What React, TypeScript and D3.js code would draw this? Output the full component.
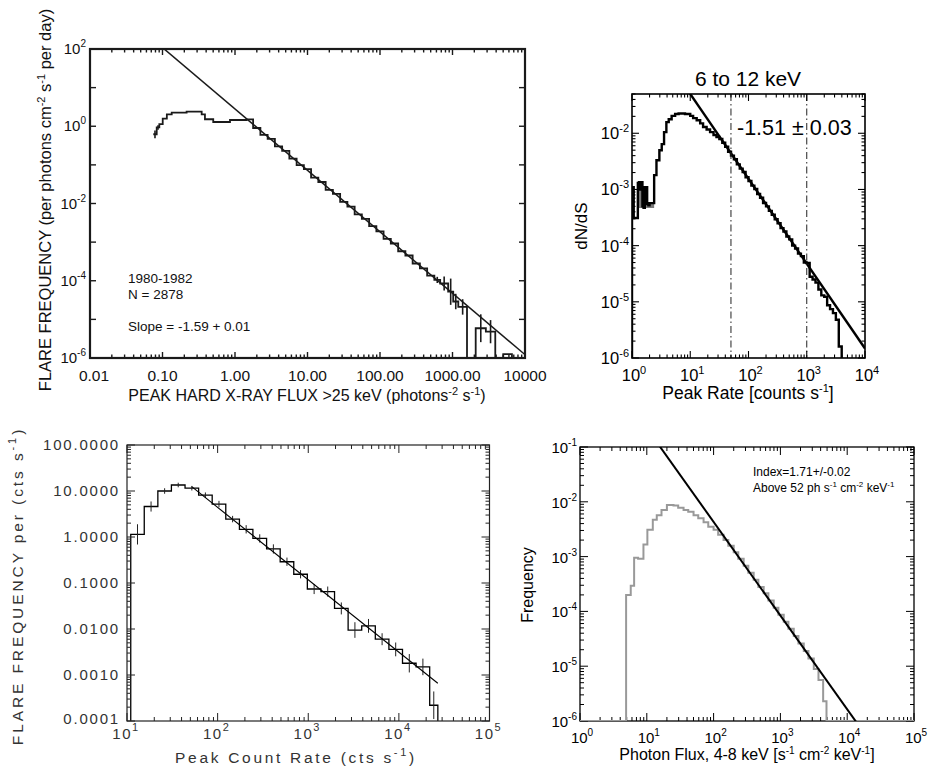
import React from 'react';
import * as d3 from 'd3';

const FONT = "'Liberation Sans', Arial, Helvetica, sans-serif";

// ---------------- Panel A (top-left): flare frequency vs peak hard X-ray flux
const aBinEdges = [0.0746, 0.0832, 0.0904, 0.1007, 0.1148, 0.134, 0.215, 0.347, 0.385, 0.501, 0.853, 1.445, 1.778, 2.24, 2.82, 3.55, 4.47, 5.62, 7.08, 8.91, 11.2, 14.1, 17.8, 22.4, 28.2, 35.5, 44.7, 56.2, 70.8, 89.1, 112, 141, 178, 224, 282, 355, 447, 562, 676, 871, 1023, 1202, 1585, 2089, 2884, 3890, 5012, 6607, 8318];
const aFreq = [0.62, 0.93, 1.13, 1.58, 2.04, 2.26, 2.4, 2.04, 1.52, 1.29, 1.45, 1.5, 0.9, 0.6, 0.47, 0.3, 0.23, 0.145, 0.098, 0.078, 0.047, 0.036, 0.0225, 0.0178, 0.011, 0.0083, 0.0052, 0.004, 0.0026, 0.0019, 0.00122, 0.00092, 0.00058, 0.00045, 0.00028, 0.00021, 0.000135, 0.000105, 8.5e-5, 5.2e-5, 2.9e-5, 2.1e-5, 0, 5.9e-6, 4.8e-6, 0, 1.26e-6, 0];
const aErrDex = [0.1, 0.06, 0, 0, 0, 0, 0, 0, 0, 0, 0, 0, 0, 0, 0, 0, 0, 0, 0, 0, 0, 0, 0, 0, 0, 0, 0, 0, 0, 0, 0, 0, 0, 0, 0, 0, 0, 0.08, 0.18, 0.34, 0.2, 0.2, 0, 0.36, 0.3, 0, 0, 0];
const aFitAmp = 2.8;
const aFitSlope = -1.59;
const aFitRange = [0.09, 12000];
const aXTickVals = [0.01, 0.1, 1, 10, 100, 1000, 10000];
const aXTickText = ['0.01', '0.10', '1.00', '10.00', '100.00', '1000.00', '10000'];
const aYLabelExp = [2, 0, -2, -4, -6];
const aNotes = ['1980-1982', 'N = 2878', 'Slope = -1.59 + 0.01'];

// ---------------- Panel B (top-right): dN/dS, 6 to 12 keV
const bBinEdges = [1.0, 1.07, 1.26, 1.32, 1.38, 1.45, 1.51, 1.58, 1.66, 1.74, 1.82, 1.91, 2.0, 2.14, 2.4, 2.63, 2.95, 3.24, 3.55, 3.89, 4.27, 4.79, 5.5, 6.31, 8.13, 10.0, 11.2, 12.9, 14.8, 16.6, 19.1, 21.9, 25.1, 28.2, 31.6, 35.5, 39.8, 44.7, 50.1, 56.2, 63.1, 70.8, 79.4, 89.1, 100, 112, 126, 141, 158, 178, 200, 224, 251, 282, 316, 355, 398, 447, 501, 562, 631, 708, 794, 891, 1000, 1122, 1259, 1413, 1585, 1778, 1995, 2239, 2512, 2818, 3162, 3548, 3981];
const bDnds = [1.1e-3, 3.1e-4, 1.3e-3, 1.35e-3, 1.0e-3, 1.35e-3, 5.0e-4, 4.7e-4, 1.1e-3, 1.1e-3, 5.5e-4, 5.2e-4, 5.7e-4, 5.7e-4, 1.8e-3, 3.3e-3, 5.0e-3, 6.4e-3, 1.05e-2, 1.58e-2, 1.78e-2, 2.04e-2, 2.2e-2, 2.25e-2, 2.2e-2, 2.04e-2, 1.86e-2, 1.7e-2, 1.5e-2, 1.29e-2, 1.17e-2, 1.05e-2, 9.3e-3, 8.6e-3, 7.9e-3, 6.8e-3, 5.75e-3, 4.7e-3, 4.0e-3, 3.45e-3, 2.8e-3, 2.35e-3, 2.05e-3, 1.65e-3, 1.41e-3, 1.17e-3, 1.02e-3, 8.3e-4, 7.1e-4, 5.75e-4, 5.0e-4, 4.15e-4, 3.55e-4, 2.95e-4, 2.5e-4, 2.05e-4, 1.78e-4, 1.45e-4, 1.29e-4, 1.0e-4, 8.9e-5, 7.2e-5, 6.5e-5, 5.0e-5, 4.9e-5, 2.8e-5, 2.5e-5, 2.2e-5, 1.66e-5, 1.3e-5, 1.23e-5, 8.7e-6, 7.4e-6, 6.3e-6, 4.8e-6, 1.6e-6];
const bFitAmp = 1.62;
const bFitSlope = -1.51;
const bFitRange = [8, 10000];
const bMarkers = [50, 1000];
const bShadeRange = [1.26, 2.4];
const bShadeFloor = 4.7e-4;
const bXExp = [0, 1, 2, 3, 4];
const bYExp = [-2, -3, -4, -5, -6];

// ---------------- Panel C (bottom-left): flare frequency vs peak count rate
const cBinEdges = [11.0, 15.5, 21.9, 30.9, 43.7, 61.7, 87.1, 123, 174, 245, 347, 490, 692, 977, 1380, 1950, 2754, 3890, 5495, 7762, 10965, 15488, 21878, 26915];
const cFreq = [1.14, 4.6, 10, 13.5, 11.5, 8.1, 5.2, 2.45, 1.47, 0.93, 0.55, 0.29, 0.155, 0.074, 0.065, 0.028, 0.0095, 0.0117, 0.006, 0.0036, 0.0018, 0.0015, 0.00022];
const cErrDex = [0.22, 0.11, 0.06, 0.05, 0.05, 0.06, 0.07, 0.07, 0.09, 0.09, 0.1, 0.09, 0.09, 0.11, 0.11, 0.13, 0.17, 0.15, 0.13, 0.15, 0.2, 0.18, 0.3];
const cFitAmp = 6194;
const cFitSlope = -1.574;
const cFitRange = [51.8, 26900];
const cYTickVals = [100, 10, 1, 0.1, 0.01, 0.001, 0.0001];
const cYTickText = ['100.0000', '10.0000', '1.0000', '0.1000', '0.0100', '0.0010', '0.0001'];
const cXExp = [1, 2, 3, 4, 5];

// ---------------- Panel D (bottom-right): frequency vs photon flux 4-8 keV
const dBinEdges = [4.9, 5.75, 6.46, 7.41, 8.91, 10.2, 12.3, 14.1, 16.6, 20.0, 25.1, 29.5, 35.5, 41.7, 50.1, 58.9, 70.8, 83.2, 100, 117, 141, 166, 200, 234, 282, 331, 398, 468, 562, 661, 794, 933, 1122, 1318, 1585, 1862, 2239, 2630, 3162, 3715, 4365, 4898];
const dFreq = [2.0e-4, 2.95e-4, 9.5e-4, 9.1e-4, 1.66e-3, 3.1e-3, 4.7e-3, 5.7e-3, 7.1e-3, 8.7e-3, 8.6e-3, 7.8e-3, 7.1e-3, 6.6e-3, 5.7e-3, 5.0e-3, 4.25e-3, 3.5e-3, 3.1e-3, 2.5e-3, 2.0e-3, 1.58e-3, 1.2e-3, 9.1e-4, 6.8e-4, 5.1e-4, 3.8e-4, 2.8e-4, 2.14e-4, 1.58e-4, 1.17e-4, 8.7e-5, 6.5e-5, 4.8e-5, 3.55e-5, 2.6e-5, 1.9e-5, 1.38e-5, 8.9e-6, 5.6e-6, 2.3e-6];
const dFitAmp = 11.3;
const dFitSlope = -1.71;
const dFitRange = [10, 20000];
const dXExp = [0, 1, 2, 3, 4, 5];
const dYExp = [-1, -2, -3, -4, -5, -6];
const dNotes = ['Index=1.71+/-0.02', 'Above 52 ph s'];

type Scale = d3.ScaleLogarithmic<number, number>;

function logTicks(dom: number[]) {
  const lo = Math.min(dom[0], dom[1]);
  const hi = Math.max(dom[0], dom[1]);
  const out: { v: number; major: boolean }[] = [];
  for (let e = Math.floor(Math.log10(lo)); e <= Math.ceil(Math.log10(hi)); e++) {
    for (let m = 1; m <= 9; m++) {
      const v = m * Math.pow(10, e);
      if (v >= lo * 0.9999 && v <= hi * 1.0001) out.push({ v, major: m === 1 });
    }
  }
  return out;
}

function stepPath(x: Scale, y: Scale, edges: number[], vals: number[], fromBottom: boolean, extend?: number[]) {
  const yb = y.range()[0];
  const lo = y.domain()[0];
  const Y = (v: number) => (v > lo ? y(v) : yb);
  const pts: [number, number][] = [];
  if (extend) pts.push([x(extend[0]), yb]);
  if (fromBottom) pts.push([x(edges[0]), yb]);
  vals.forEach((v, i) => {
    pts.push([x(edges[i]), Y(v)]);
    pts.push([x(edges[i + 1]), Y(v)]);
  });
  pts.push([x(edges[edges.length - 1]), yb]);
  if (extend) pts.push([x(extend[1]), yb]);
  return d3.line()(pts) || '';
}

function shadePath(x: Scale, y: Scale, edges: number[], vals: number[], range: number[], floor: number) {
  const pts: [number, number][] = [];
  vals.forEach((v, i) => {
    if (edges[i] >= range[0] - 1e-9 && edges[i + 1] <= range[1] + 1e-9) {
      if (pts.length === 0) pts.push([x(edges[i]), y(floor)]);
      pts.push([x(edges[i]), y(Math.max(v, floor))]);
      pts.push([x(edges[i + 1]), y(Math.max(v, floor))]);
    }
  });
  if (pts.length) pts.push([pts[pts.length - 1][0], y(floor)]);
  return (d3.line()(pts) || '') + 'Z';
}

function fitPath(x: Scale, y: Scale, amp: number, slope: number, range: number[]) {
  const pts = range.map((v) => [x(v), y(amp * Math.pow(v, slope))] as [number, number]);
  return d3.line()(pts) || '';
}

function ErrBars({ x, y, edges, vals, err, stroke, sw }: any) {
  const yb = y.range()[0];
  const lo = y.domain()[0];
  return (
    <g stroke={stroke} strokeWidth={sw}>
      {vals.map((v: number, i: number) => {
        if (!err[i] || v <= 0) return null;
        const xc = x(Math.sqrt(edges[i] * edges[i + 1]));
        const up = v * Math.pow(10, err[i]);
        const dn = v / Math.pow(10, err[i]);
        return <line key={i} x1={xc} x2={xc} y1={y(up)} y2={dn > lo ? y(dn) : yb} />;
      })}
    </g>
  );
}

function LogFrame({ x, y, xMaj, xMin, yMaj, yMin, xMinor = true, yMinor = true, stroke = '#000', width = 1, tickWidth = 1 }: any) {
  const [l, r] = x.range();
  const [b, t] = y.range();
  const xt = logTicks(x.domain()).filter((k) => k.major || xMinor);
  const yt = logTicks(y.domain()).filter((k) => k.major || yMinor);
  return (
    <g stroke={stroke} fill="none">
      {xt.map((k, i) => {
        const X = x(k.v);
        const len = k.major ? xMaj : xMin;
        return (
          <g key={'x' + i} strokeWidth={tickWidth}>
            <line x1={X} x2={X} y1={b} y2={b - len} />
            <line x1={X} x2={X} y1={t} y2={t + len} />
          </g>
        );
      })}
      {yt.map((k, i) => {
        const Y = y(k.v);
        const len = k.major ? yMaj : yMin;
        return (
          <g key={'y' + i} strokeWidth={tickWidth}>
            <line x1={l} x2={l + len} y1={Y} y2={Y} />
            <line x1={r} x2={r - len} y1={Y} y2={Y} />
          </g>
        );
      })}
      <rect x={l} y={t} width={r - l} height={b - t} strokeWidth={width} />
    </g>
  );
}

function Pow({ x, y, exp, anchor = 'middle', size, sup, raise, fill = '#000', ls = 0 }: any) {
  return (
    <text x={x} y={y} textAnchor={anchor} fontSize={size} fill={fill} letterSpacing={ls}>
      10
      <tspan dy={-raise} fontSize={sup}>
        {exp}
      </tspan>
    </text>
  );
}

function Sup({ children, raise, size }: any) {
  return (
    <tspan dy={-raise} fontSize={size}>
      {children}
    </tspan>
  );
}

export default function App() {
  // scales
  const ax = d3.scaleLog().domain([0.01, 10000]).range([90, 525]);
  const ay = d3.scaleLog().domain([1e-6, 100]).range([358, 49]);
  const bx = d3.scaleLog().domain([1, 1e4]).range([632, 865]);
  const by = d3.scaleLog().domain([1e-6, 0.05]).range([358, 94]);
  const cx = d3.scaleLog().domain([10, 1e5]).range([127, 489.5]);
  const cy = d3.scaleLog().domain([1e-4, 100]).range([721, 445]);
  const dx = d3.scaleLog().domain([1, 1e5]).range([580, 914]);
  const dy = d3.scaleLog().domain([1e-6, 0.1]).range([721, 447]);

  const clip = (id: string, x: Scale, y: Scale) => (
    <clipPath id={id}>
      <rect x={x.range()[0]} y={y.range()[1]} width={x.range()[1] - x.range()[0]} height={y.range()[0] - y.range()[1]} />
    </clipPath>
  );

  const cFill = '#333';

  return (
    <svg width={931} height={773} style={{ position: 'absolute', left: 0, top: 0, background: '#fff' }} fontFamily={FONT}>
      <defs>
        {clip('clipA', ax, ay)}
        {clip('clipB', bx, by)}
        {clip('clipC', cx, cy)}
        {clip('clipD', dx, dy)}
      </defs>
      <rect x={0} y={0} width={931} height={773} fill="#fff" />

      {/* ================= Panel A ================= */}
      <g>
        <path d={stepPath(ax, ay, aBinEdges, aFreq, false)} fill="none" stroke="#1a1a1a" strokeWidth={1.8} clipPath="url(#clipA)" />
        <ErrBars x={ax} y={ay} edges={aBinEdges} vals={aFreq} err={aErrDex} stroke="#1a1a1a" sw={1.6} />
        <path d={fitPath(ax, ay, aFitAmp, aFitSlope, aFitRange)} fill="none" stroke="#1a1a1a" strokeWidth={1.5} clipPath="url(#clipA)" />
        <LogFrame x={ax} y={ay} xMaj={6} xMin={3.5} yMaj={6} yMin={0} yMinor={false} stroke="#1a1a1a" width={2.2} tickWidth={1.4} />
        {aXTickVals.map((v, i) => (
          <text key={i} x={ax(v) + (i === 0 ? 4 : 0)} y={381} textAnchor="middle" fontSize={15.5} fill="#111">
            {aXTickText[i]}
          </text>
        ))}
        {aYLabelExp.map((e) => (
          <Pow key={e} x={86} y={ay(Math.pow(10, e)) + 5} exp={e} anchor="end" size={15} sup={10} raise={7} fill="#111" />
        ))}
        <text x={307} y={401} textAnchor="middle" fontSize={16} fill="#111">
          PEAK HARD X-RAY FLUX &gt;25 keV (photons<Sup raise={6} size={11}>-2</Sup>
          <tspan dy={6}> s</tspan>
          <Sup raise={6} size={11}>-1</Sup>
          <tspan dy={6}>)</tspan>
        </text>
        <text transform="translate(51,200) rotate(-90)" textAnchor="middle" fontSize={16.5} fill="#111">
          FLARE FREQUENCY (per photons cm<Sup raise={6} size={11}>-2</Sup>
          <tspan dy={6}> s</tspan>
          <Sup raise={6} size={11}>-1</Sup>
          <tspan dy={6}> per day)</tspan>
        </text>
        <text x={128} y={283} fontSize={13.5} fill="#111">{aNotes[0]}</text>
        <text x={128} y={299} fontSize={13.5} fill="#111">{aNotes[1]}</text>
        <text x={128} y={331} fontSize={13.5} fill="#111">{aNotes[2]}</text>
      </g>

      {/* ================= Panel B ================= */}
      <g>
        <path d={shadePath(bx, by, bBinEdges, bDnds, bShadeRange, bShadeFloor)} fill="#7a7a7a" stroke="none" />
        <path d={stepPath(bx, by, bBinEdges, bDnds, true)} fill="none" stroke="#000" strokeWidth={2.4} strokeLinejoin="miter" clipPath="url(#clipB)" />
        <path d={fitPath(bx, by, bFitAmp, bFitSlope, bFitRange)} fill="none" stroke="#000" strokeWidth={2.4} clipPath="url(#clipB)" />
        {bMarkers.map((m) => (
          <line key={m} x1={bx(m)} x2={bx(m)} y1={by.range()[1]} y2={by.range()[0]} stroke="#222" strokeWidth={1} strokeDasharray="7,3,1.5,3" />
        ))}
        <LogFrame x={bx} y={by} xMaj={7} xMin={3.5} yMaj={7} yMin={3.5} stroke="#000" width={1.6} tickWidth={1.1} />
        <text x={748} y={86} textAnchor="middle" fontSize={21} fill="#000">6 to 12 keV</text>
        <text x={737} y={135} fontSize={21.5} fill="#000">-1.51 ± 0.03</text>
        {bXExp.map((e) => (
          <Pow key={e} x={bx(Math.pow(10, e)) + 2} y={381} exp={e} size={16.5} sup={11} raise={7} />
        ))}
        {bYExp.map((e) => (
          <Pow key={e} x={629} y={by(Math.pow(10, e)) + 6} exp={e} anchor="end" size={16.5} sup={11} raise={7} />
        ))}
        <text x={748} y={399} textAnchor="middle" fontSize={17.5} fill="#000">
          Peak Rate [counts s<Sup raise={7} size={11}>-1</Sup>
          <tspan dy={7}>]</tspan>
        </text>
        <text transform="translate(587,226) rotate(-90)" textAnchor="middle" fontSize={17} fill="#000">dN/dS</text>
      </g>

      {/* ================= Panel C ================= */}
      <g>
        <path d={stepPath(cx, cy, cBinEdges, cFreq, true)} fill="none" stroke="#000" strokeWidth={1.3} clipPath="url(#clipC)" />
        <ErrBars x={cx} y={cy} edges={cBinEdges} vals={cFreq} err={cErrDex} stroke="#222" sw={1} />
        <path d={fitPath(cx, cy, cFitAmp, cFitSlope, cFitRange)} fill="none" stroke="#000" strokeWidth={1.1} clipPath="url(#clipC)" />
        <LogFrame x={cx} y={cy} xMaj={8} xMin={4} yMaj={8} yMin={4} stroke="#222" width={1.2} tickWidth={1} />
        {cYTickVals.map((v, i) => (
          <text key={i} x={120} y={cy(v) + (i === cYTickVals.length - 1 ? 3 : 5)} textAnchor="end" fontSize={15} fill={cFill} letterSpacing={1.8}>
            {cYTickText[i]}
          </text>
        ))}
        {cXExp.map((e) => (
          <Pow key={e} x={cx(Math.pow(10, e)) - 1} y={739} exp={e} size={15} sup={11} raise={8} fill={cFill} ls={1.5} />
        ))}
        <text x={296} y={763} textAnchor="middle" fontSize={15.5} fill={cFill} letterSpacing={2.7}>
          Peak Count Rate (cts s<Sup raise={7} size={11}>-1</Sup>
          <tspan dy={7}>)</tspan>
        </text>
        <text transform="translate(23,586) rotate(-90)" textAnchor="middle" fontSize={15.5} fill={cFill} letterSpacing={2.9}>
          FLARE FREQUENCY per (cts s<Sup raise={7} size={11}>-1</Sup>
          <tspan dy={7}>)</tspan>
        </text>
      </g>

      {/* ================= Panel D ================= */}
      <g>
        <LogFrame x={dx} y={dy} xMaj={8} xMin={4} yMaj={8} yMin={4} stroke="#000" width={1.3} tickWidth={1} />
        <path d={stepPath(dx, dy, dBinEdges, dFreq, true, [1, 1e5])} fill="none" stroke="#999" strokeWidth={2} clipPath="url(#clipD)" />
        <path d={fitPath(dx, dy, dFitAmp, dFitSlope, dFitRange)} fill="none" stroke="#000" strokeWidth={2} clipPath="url(#clipD)" />
        {dXExp.map((e) => (
          <Pow key={e} x={dx(Math.pow(10, e)) + 2} y={743} exp={e} size={15} sup={10} raise={7} />
        ))}
        {dYExp.map((e) => (
          <Pow key={e} x={577} y={dy(Math.pow(10, e)) + 6} exp={e} anchor="end" size={15} sup={10} raise={7} />
        ))}
        <text x={747} y={760} textAnchor="middle" fontSize={16} fill="#000">
          Photon Flux, 4-8 keV [s<Sup raise={6} size={10}>-1</Sup>
          <tspan dy={6}> cm</tspan>
          <Sup raise={6} size={10}>-2</Sup>
          <tspan dy={6}> keV</tspan>
          <Sup raise={6} size={10}>-1</Sup>
          <tspan dy={6}>]</tspan>
        </text>
        <text transform="translate(533,585) rotate(-90)" textAnchor="middle" fontSize={16} fill="#000">Frequency</text>
        <text x={753} y={476} fontSize={12} fill="#000">{dNotes[0]}</text>
        <text x={753} y={492} fontSize={12} fill="#000">
          {dNotes[1]}
          <Sup raise={5} size={8}>-1</Sup>
          <tspan dy={5}> cm</tspan>
          <Sup raise={5} size={8}>-2</Sup>
          <tspan dy={5}> keV</tspan>
          <Sup raise={5} size={8}>-1</Sup>
        </text>
      </g>
    </svg>
  );
}
